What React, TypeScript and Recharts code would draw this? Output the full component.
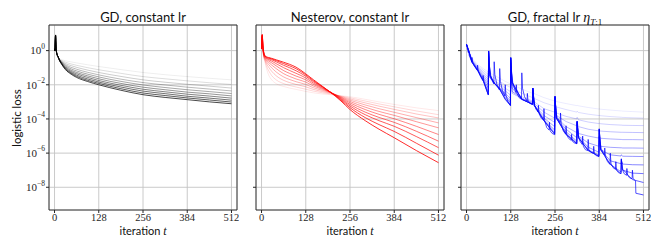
import React from 'react';
import { LineChart, Line, XAxis, YAxis, CartesianGrid, ReferenceArea } from 'recharts';

// ---------- shared axes ----------
const X_TICKS = [0, 128, 256, 384, 512];
const X_DOMAIN = [-16, 528];
const Y_TICKS = [1, 1e-2, 1e-4, 1e-6, 1e-8];
const Y_MIN_EXP = -9.33;
const Y_MAX_EXP = 1.5;

// ---------- panel 1: GD, constant lr (log10 loss, light -> dark) ----------
const GD_T = [0, 1, 2, 3, 4, 5, 7, 10, 14, 20, 32, 48, 64, 96, 128, 192, 256, 320, 384, 448, 512];
const GD_1 = [0.1, 0.0, 0.5, 0.9, 0.45, 0.05, -0.2, -0.35, -0.48, -0.53, -0.6, -0.66, -0.72, -0.83, -0.93, -1.11, -1.28, -1.41, -1.52, -1.62, -1.71];
const GD_2 = [0.1, 0.0, 0.5, 0.9, 0.45, 0.05, -0.2, -0.35, -0.49, -0.57, -0.68, -0.78, -0.86, -1.0, -1.12, -1.33, -1.52, -1.65, -1.77, -1.88, -1.98];
const GD_3 = [0.1, 0.0, 0.5, 0.9, 0.45, 0.05, -0.2, -0.35, -0.5, -0.61, -0.76, -0.88, -0.98, -1.14, -1.28, -1.51, -1.71, -1.85, -1.97, -2.08, -2.19];
const GD_4 = [0.1, 0.0, 0.5, 0.9, 0.45, 0.05, -0.2, -0.35, -0.51, -0.64, -0.83, -0.98, -1.09, -1.27, -1.42, -1.67, -1.87, -2.01, -2.14, -2.25, -2.36];
const GD_5 = [0.1, 0.0, 0.5, 0.9, 0.45, 0.05, -0.2, -0.35, -0.52, -0.67, -0.89, -1.07, -1.19, -1.38, -1.54, -1.8, -2.01, -2.16, -2.29, -2.4, -2.51];
const GD_6 = [0.1, 0.0, 0.5, 0.9, 0.45, 0.05, -0.2, -0.35, -0.53, -0.7, -0.95, -1.15, -1.28, -1.48, -1.65, -1.92, -2.14, -2.29, -2.43, -2.53, -2.65];
const GD_7 = [0.1, 0.0, 0.5, 0.9, 0.45, 0.05, -0.2, -0.35, -0.54, -0.72, -1.0, -1.22, -1.36, -1.57, -1.75, -2.03, -2.26, -2.41, -2.55, -2.66, -2.78];
const GD_8 = [0.1, 0.0, 0.5, 0.9, 0.45, 0.05, -0.2, -0.35, -0.55, -0.74, -1.05, -1.28, -1.44, -1.66, -1.84, -2.13, -2.37, -2.52, -2.67, -2.78, -2.9];
const GD_9 = [0.1, 0.0, 0.5, 0.9, 0.45, 0.05, -0.2, -0.35, -0.56, -0.76, -1.09, -1.33, -1.51, -1.74, -1.92, -2.23, -2.48, -2.63, -2.77, -2.89, -3.01];
const GD_10 = [0.1, 0.0, 0.55, 0.92, 0.45, 0.05, -0.2, -0.35, -0.57, -0.78, -1.12, -1.38, -1.57, -1.81, -2.0, -2.32, -2.58, -2.74, -2.87, -3.0, -3.11];

// ---------- panel 2: Nesterov, constant lr ----------
const NES_T = [0, 2, 4, 7, 10, 14, 20, 29, 43, 64, 81, 100, 128, 150, 177, 200, 230, 256, 300, 340, 384, 448, 512];
const NES_1 = [0.1, 0.7, 0.0, -0.45, -0.7, -1.03, -1.4, -1.7, -1.94, -2.1, -2.19, -2.27, -2.39, -2.47, -2.54, -2.58, -2.64, -2.7, -2.85, -3.0, -3.15, -3.35, -3.51];
const NES_2 = [0.1, 0.73, 0.03, -0.42, -0.62, -0.88, -1.15, -1.45, -1.72, -1.93, -2.04, -2.13, -2.26, -2.37, -2.47, -2.54, -2.66, -2.76, -2.95, -3.12, -3.29, -3.53, -3.75];
const NES_3 = [0.1, 0.76, 0.06, -0.38, -0.55, -0.75, -0.95, -1.2, -1.48, -1.74, -1.87, -1.98, -2.12, -2.27, -2.4, -2.5, -2.68, -2.83, -3.06, -3.25, -3.44, -3.71, -3.94];
const NES_4 = [0.1, 0.79, 0.1, -0.34, -0.49, -0.64, -0.8, -1.0, -1.26, -1.54, -1.69, -1.82, -1.98, -2.17, -2.33, -2.47, -2.71, -2.9, -3.18, -3.4, -3.61, -3.92, -4.23];
const NES_5 = [0.1, 0.82, 0.13, -0.3, -0.44, -0.56, -0.68, -0.84, -1.06, -1.35, -1.51, -1.66, -1.84, -2.07, -2.27, -2.45, -2.74, -2.98, -3.31, -3.56, -3.79, -4.16, -4.52];
const NES_6 = [0.1, 0.85, 0.17, -0.26, -0.4, -0.5, -0.59, -0.71, -0.9, -1.17, -1.33, -1.49, -1.71, -1.98, -2.22, -2.44, -2.77, -3.06, -3.45, -3.73, -3.99, -4.43, -4.91];
const NES_7 = [0.1, 0.88, 0.2, -0.22, -0.36, -0.45, -0.52, -0.61, -0.77, -1.0, -1.16, -1.33, -1.6, -1.9, -2.18, -2.44, -2.81, -3.15, -3.6, -3.91, -4.2, -4.72, -5.3];
const NES_8 = [0.1, 0.9, 0.24, -0.19, -0.33, -0.41, -0.47, -0.53, -0.66, -0.86, -1.0, -1.18, -1.5, -1.82, -2.14, -2.44, -2.85, -3.24, -3.75, -4.1, -4.43, -5.03, -5.68];
const NES_9 = [0.1, 0.93, 0.27, -0.17, -0.31, -0.38, -0.43, -0.48, -0.59, -0.76, -0.89, -1.06, -1.42, -1.76, -2.12, -2.44, -2.9, -3.34, -3.92, -4.33, -4.73, -5.42, -6.12];
const NES_10 = [0.1, 0.95, 0.3, -0.15, -0.3, -0.36, -0.4, -0.45, -0.54, -0.68, -0.8, -0.97, -1.36, -1.7, -2.1, -2.45, -2.95, -3.45, -4.1, -4.6, -5.1, -5.85, -6.56];

// ---------- panel 3: GD, fractal lr ----------
const FR_T = [0, 6, 16, 32, 48, 63, 64, 68, 80, 96, 112, 127, 128, 132, 160, 191, 192, 196, 224, 255, 256, 260, 288, 319, 320, 324, 352, 383, 384, 388, 416, 447, 448, 452, 480, 512];
const FR_1 = [0.37, 0.0, -0.45, -0.8, -1.05, -1.25, -1.0, -1.3, -1.45, -1.62, -1.8, -1.95, -1.7, -2.0, -2.25, -2.5, -2.4, -2.52, -2.75, -2.95, -2.85, -2.98, -3.1, -3.22, -3.2, -3.23, -3.33, -3.42, -3.41, -3.43, -3.48, -3.53, -3.53, -3.54, -3.57, -3.6];
const FR_2 = [0.37, 0.0, -0.5, -0.88, -1.15, -1.4, -0.9, -1.45, -1.6, -1.8, -2.0, -2.15, -1.5, -2.2, -2.5, -2.75, -2.5, -2.8, -3.05, -3.25, -3.0, -3.3, -3.45, -3.6, -3.55, -3.62, -3.72, -3.8, -3.79, -3.81, -3.86, -3.9, -3.9, -3.91, -3.93, -3.95];
const FR_3 = [0.37, 0.0, -0.55, -0.95, -1.25, -1.55, -0.8, -1.55, -1.75, -1.95, -2.2, -2.4, -1.3, -2.4, -2.7, -2.95, -2.5, -3.0, -3.4, -3.6, -3.0, -3.65, -3.85, -4.0, -3.9, -4.05, -4.18, -4.27, -4.25, -4.28, -4.33, -4.36, -4.36, -4.37, -4.38, -4.39];
const FR_4 = [0.37, 0.0, -0.58, -1.0, -1.35, -1.7, -0.6, -1.6, -1.85, -2.05, -2.35, -2.6, -1.1, -2.5, -2.8, -3.0, -2.4, -3.1, -3.6, -3.95, -2.9, -3.8, -4.15, -4.4, -4.2, -4.45, -4.6, -4.7, -4.68, -4.71, -4.75, -4.78, -4.78, -4.78, -4.79, -4.8];
const FR_5 = [0.37, 0.0, -0.6, -1.05, -1.45, -1.85, -0.4, -1.6, -1.9, -2.15, -2.5, -2.8, -0.9, -2.4, -2.8, -3.05, -2.35, -3.2, -3.8, -4.2, -2.8, -3.9, -4.45, -4.8, -4.3, -4.85, -5.0, -5.12, -5.05, -5.13, -5.17, -5.2, -5.2, -5.21, -5.21, -5.22];
const FR_6 = [0.37, 0.0, -0.62, -1.1, -1.55, -2.0, -0.3, -1.55, -1.9, -2.2, -2.6, -2.95, -0.7, -2.2, -2.85, -3.1, -2.3, -3.2, -3.95, -4.45, -2.75, -3.95, -4.6, -5.1, -4.25, -5.0, -5.4, -5.6, -5.0, -5.6, -5.66, -5.69, -5.69, -5.7, -5.7, -5.71];
const FR_7 = [0.37, 0.0, -0.65, -1.12, -1.62, -2.2, -0.15, -1.5, -1.9, -2.2, -2.7, -3.05, -0.55, -2.0, -2.85, -3.12, -2.25, -3.2, -4.05, -4.65, -2.7, -3.95, -4.75, -5.3, -4.2, -5.05, -5.65, -5.95, -4.8, -5.8, -6.1, -6.17, -6.1, -6.18, -6.19, -6.2];
const FR_8 = [0.37, 0.0, -0.67, -1.15, -1.7, -2.4, -0.08, -1.45, -1.9, -2.25, -2.8, -3.15, -0.45, -1.9, -2.85, -3.14, -2.2, -3.2, -4.1, -4.8, -2.68, -3.95, -4.85, -5.4, -4.15, -5.1, -5.8, -6.12, -4.65, -5.8, -6.45, -6.62, -6.45, -6.64, -6.68, -6.69];
const FR_9 = [0.37, 0.0, -0.7, -1.15, -1.75, -2.55, -0.03, -1.45, -1.9, -2.25, -2.85, -3.2, -0.42, -1.85, -2.85, -3.15, -2.19, -3.2, -4.1, -4.88, -2.68, -3.95, -4.9, -5.45, -4.14, -5.1, -5.85, -6.18, -4.6, -5.8, -6.65, -7.1, -6.4, -7.0, -7.17, -7.2];
const FR_10 = [0.37, 0.0, -0.7, -1.15, -1.75, -2.58, -0.02, -1.45, -1.9, -2.28, -2.85, -3.21, -0.41, -1.85, -2.85, -3.15, -2.19, -3.2, -4.1, -4.9, -2.68, -3.95, -4.9, -5.45, -4.14, -5.1, -5.85, -6.19, -4.58, -5.8, -6.66, -7.2, -6.35, -6.95, -7.55, -7.72];
const FR_MAIN_T = [
  0, 3, 5, 6, 8, 12, 15, 16, 18, 24, 31, 32, 34, 40, 47, 48, 50, 56, 63,
  64, 66, 70, 75, 79, 80, 82, 88, 95, 96, 98, 104, 111, 112, 114, 120, 127,
  128, 130, 134, 140, 143, 144, 146, 152, 159, 160, 162, 168, 175, 176, 178, 184, 191,
  192, 194, 200, 207, 208, 210, 216, 223, 224, 226, 232, 239, 240, 242, 248, 255,
  256, 258, 262, 271, 272, 274, 280, 287, 288, 290, 296, 303, 304, 306, 312, 319,
  320, 322, 328, 335, 336, 338, 344, 351, 352, 354, 360, 367, 368, 370, 376, 383,
  384, 386, 390, 399, 400, 402, 408, 415, 416, 418, 424, 431, 432, 434, 440, 447,
  448, 450, 456, 463, 464, 466, 472, 479, 480, 482, 488, 489, 490, 512,
];
const FR_MAIN = [
  0.37, 0.05, -0.1, 0.0, -0.3, -0.5, -0.65, -0.4, -0.7, -0.95, -1.15, -0.85, -1.2, -1.5, -1.75, -1.45, -1.8, -2.2, -2.6,
  -0.02, -0.9, -1.45, -1.8, -1.95, -0.65, -1.4, -2.0, -2.3, -1.05, -1.8, -2.35, -2.65, -2.0, -2.6, -3.0, -3.22,
  -0.4, -1.3, -1.9, -2.3, -2.45, -2.0, -2.5, -2.75, -2.85, -1.3, -2.2, -2.7, -2.95, -2.5, -2.95, -3.1, -3.15,
  -2.19, -2.9, -3.4, -3.6, -3.2, -3.7, -3.95, -4.05, -3.4, -4.1, -4.5, -4.65, -4.2, -4.7, -4.85, -4.92,
  -2.68, -3.5, -3.9, -4.2, -3.65, -4.3, -4.7, -4.9, -4.4, -4.95, -5.15, -5.25, -4.9, -5.3, -5.4, -5.45,
  -4.14, -4.9, -5.3, -5.5, -5.0, -5.6, -5.8, -5.85, -5.2, -5.8, -5.95, -6.0, -5.6, -6.05, -6.15, -6.2,
  -4.58, -5.3, -5.75, -6.1, -5.7, -6.2, -6.5, -6.66, -6.0, -6.6, -6.85, -6.95, -6.5, -7.0, -7.15, -7.2,
  -6.33, -6.9, -7.2, -7.3, -6.9, -7.3, -7.45, -7.5, -7.0, -7.5, -7.6, -7.62, -8.35, -8.45,
];

type Series = { t: number[]; e: number[] };

const toRows = (s: Series) => s.t.map((t, i) => ({ t, y: Math.pow(10, s.e[i]) }));

const GD_SERIES: Series[] = [GD_1, GD_2, GD_3, GD_4, GD_5, GD_6, GD_7, GD_8, GD_9, GD_10].map((e) => ({ t: GD_T, e }));
const NES_SERIES: Series[] = [NES_1, NES_2, NES_3, NES_4, NES_5, NES_6, NES_7, NES_8, NES_9, NES_10].map((e) => ({ t: NES_T, e }));
const FR_SERIES: Series[] = [
  ...[FR_1, FR_2, FR_3, FR_4, FR_5, FR_6, FR_7, FR_8, FR_9, FR_10].map((e) => ({ t: FR_T, e })),
  { t: FR_MAIN_T, e: FR_MAIN },
];

const SERIF = '"Liberation Serif", "DejaVu Serif", serif';
const SANS = 'Lato, "Open Sans", sans-serif';
const INK = '#262626';

function YTickLabel(props: any) {
  const { x, y, payload } = props;
  const e = Math.round(Math.log10(payload.value));
  const exp = e === 0 ? '0' : `\u2212${-e}`;
  return (
    <text x={x} y={y} textAnchor="end" fontFamily={SERIF} fontSize={11} fill={INK}>
      <tspan dy="0.35em">10</tspan>
      <tspan dy="-0.75em" fontSize={7.5}>{exp}</tspan>
    </text>
  );
}

const EmptyTick = () => <g />;

type PanelProps = {
  series: Series[];
  color: string;
  plotLeft: number;
  showYLabels: boolean;
  curve: 'monotone' | 'linear';
  opacities: number[];
  lineWidth: number;
};

const PLOT_W = 188;
const H = 249;

function Panel({ series, color, plotLeft, showYLabels, curve, opacities, lineWidth }: PanelProps) {
  const yW = showYLabels ? 49 : 10;
  const width = yW + PLOT_W + 2;
  return (
    <div style={{ position: 'absolute', left: plotLeft - yW, top: 0, width, height: H }}>
      <LineChart width={width} height={H} margin={{ top: 25, right: 2, bottom: 0, left: 0 }}>
        <CartesianGrid stroke="#c4c4c4" strokeWidth={0.9} />
        <XAxis
          dataKey="t"
          type="number"
          domain={X_DOMAIN}
          ticks={X_TICKS}
          allowDataOverflow
          height={39}
          axisLine={false}
          tickSize={3}
          tickMargin={1}
          tickLine={{ stroke: INK }}
          tick={{ fontFamily: SERIF, fontSize: 10.5, fill: INK }}
          interval={0}
        />
        <YAxis
          type="number"
          scale="log"
          domain={[Math.pow(10, Y_MIN_EXP), Math.pow(10, Y_MAX_EXP)]}
          ticks={Y_TICKS}
          allowDataOverflow
          width={yW}
          axisLine={false}
          tickSize={3}
          tickMargin={1}
          tickLine={{ stroke: INK }}
          tick={showYLabels ? <YTickLabel /> : <EmptyTick />}
          interval={0}
        />
        {series.map((s, i) => (
          <Line
            key={i}
            data={toRows(s)}
            dataKey="y"
            type={curve}
            stroke={color}
            strokeOpacity={opacities[i]}
            strokeWidth={lineWidth}
            dot={false}
            activeDot={false}
            isAnimationActive={false}
          />
        ))}
        <ReferenceArea
          x1={X_DOMAIN[0]}
          x2={X_DOMAIN[1]}
          y1={Math.pow(10, Y_MIN_EXP)}
          y2={Math.pow(10, Y_MAX_EXP)}
          fill="none"
          fillOpacity={0}
          stroke={INK}
          strokeWidth={0.9}
          ifOverflow="visible"
        />
      </LineChart>
    </div>
  );
}

const PLOT_LEFTS = [49, 256, 461];
const opGray = [0.08, 0.15, 0.22, 0.3, 0.38, 0.46, 0.54, 0.62, 0.7, 0.8];
const opRed = [0.1, 0.18, 0.27, 0.36, 0.45, 0.54, 0.63, 0.72, 0.82, 0.92];
const opBlue = [0.1, 0.17, 0.24, 0.31, 0.38, 0.45, 0.52, 0.6, 0.68, 0.76, 0.85];

const titleStyle = (left: number): React.CSSProperties => ({
  position: 'absolute',
  left,
  top: 8,
  width: PLOT_W,
  textAlign: 'center',
  fontFamily: SANS,
  fontSize: 13,
  lineHeight: '18px',
  color: '#111',
  whiteSpace: 'nowrap',
});

const xLabelStyle = (left: number): React.CSSProperties => ({
  position: 'absolute',
  left,
  top: 223,
  width: PLOT_W,
  textAlign: 'center',
  fontFamily: SANS,
  fontSize: 11,
  lineHeight: '15px',
  color: '#111',
  whiteSpace: 'nowrap',
});

export default function App() {
  return (
    <div style={{ position: 'absolute', left: 0, top: 0, width: 664, height: H, background: '#fff', overflow: 'hidden' }}>
      <Panel series={GD_SERIES} color="#000000" plotLeft={PLOT_LEFTS[0]} showYLabels curve="monotone" opacities={opGray} lineWidth={0.9} />
      <Panel series={NES_SERIES} color="#ff0000" plotLeft={PLOT_LEFTS[1]} showYLabels={false} curve="monotone" opacities={opRed} lineWidth={0.9} />
      <Panel series={FR_SERIES} color="#0000ff" plotLeft={PLOT_LEFTS[2]} showYLabels={false} curve="linear" opacities={opBlue} lineWidth={0.8} />

      <div style={titleStyle(PLOT_LEFTS[0])}>GD, constant lr</div>
      <div style={titleStyle(PLOT_LEFTS[1])}>Nesterov, constant lr</div>
      <div style={titleStyle(PLOT_LEFTS[2])}>
        GD, fractal lr{' '}
        <span style={{ fontFamily: SERIF, fontStyle: 'italic', fontSize: 14 }}>η</span>
        <span style={{ fontFamily: SERIF, fontSize: 9, position: 'relative', top: 3 }}>
          <i>T</i>:1
        </span>
      </div>

      {PLOT_LEFTS.map((l, i) => (
        <div key={i} style={xLabelStyle(l)}>
          iteration <span style={{ fontFamily: SERIF, fontStyle: 'italic', fontSize: 12 }}>t</span>
        </div>
      ))}

      <div
        style={{
          position: 'absolute',
          left: 17 - 50,
          top: 118 - 8,
          width: 100,
          height: 16,
          lineHeight: '16px',
          textAlign: 'center',
          transform: 'rotate(-90deg)',
          fontFamily: SANS,
          fontSize: 11.5,
          color: '#111',
          whiteSpace: 'nowrap',
        }}
      >
        logistic loss
      </div>
    </div>
  );
}
